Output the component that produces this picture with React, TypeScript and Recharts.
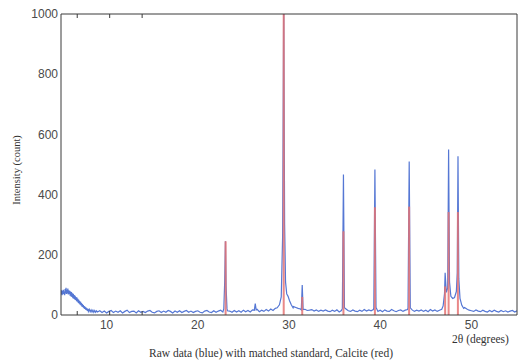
import React from "react";
import { ComposedChart, Line, ReferenceLine, XAxis, YAxis } from "recharts";

const X_TICKS = [10, 20, 30, 40, 50];
const Y_TICKS = [0, 200, 400, 600, 800, 1000];

// raw scan, low-angle hump (2theta, count)
const LOW_ANGLE: [number, number][] = [
  [5.0, 70], [5.05, 82], [5.1, 66], [5.15, 80], [5.2, 68], [5.25, 84], [5.3, 70], [5.35, 78],
  [5.4, 66], [5.45, 86], [5.5, 72], [5.55, 90], [5.6, 70], [5.65, 84], [5.7, 72], [5.75, 88],
  [5.8, 68], [5.85, 82], [5.9, 70], [5.95, 80], [6.0, 64], [6.05, 78], [6.1, 62], [6.15, 76],
  [6.2, 60], [6.25, 72], [6.3, 56], [6.35, 70], [6.4, 54], [6.45, 66], [6.5, 52], [6.55, 64],
  [6.6, 50], [6.65, 60], [6.7, 46], [6.75, 58], [6.8, 44], [6.85, 54], [6.9, 40], [6.95, 50],
  [7.0, 38], [7.05, 46], [7.1, 34], [7.15, 44], [7.2, 32], [7.25, 40], [7.3, 28], [7.35, 36],
  [7.4, 26], [7.45, 33], [7.5, 23], [7.55, 30], [7.6, 20], [7.65, 27], [7.7, 18], [7.75, 25],
  [7.8, 16], [7.85, 22], [7.9, 14], [7.95, 20], [8.0, 12], [8.1, 19], [8.2, 11], [8.3, 17],
  [8.4, 10], [8.5, 16], [8.6, 9], [8.7, 15], [8.8, 9], [8.9, 14], [9.0, 10],
];

// flat background, sampled every 0.25 deg from 9.25 to 55
const BACKGROUND_START = 9.25;
const BACKGROUND_STEP = 0.25;
const BACKGROUND_COUNTS = [
  14, 8, 13, 7, 12, 15, 8, 13, 9, 14, 7, 12, 16, 8, 12, 13, 7, 14, 9, 12,
  8, 13, 15, 9, 7, 12, 14, 8, 13, 9, 15, 12, 7, 13, 9, 14, 8, 12, 15, 9,
  13, 8, 12, 14, 9, 7, 13, 15, 10, 8, 14, 9, 13, 16, 10, 8, 14, 13, 9, 15,
  10, 14, 9, 16, 11, 15, 10, 17, 12, 19, 11, 16, 12, 18, 13, 20, 15, 22, 24, 30,
  40, 45, 40, 35, 30, 28, 25, 22, 20, 18, 19, 15, 16, 18, 13, 17, 12, 16, 13, 17,
  13, 11, 16, 12, 17, 10, 15, 18, 20, 14, 12, 17, 13, 11, 16, 12, 18, 13, 17, 14,
  18, 13, 12, 16, 11, 17, 13, 12, 18, 14, 11, 15, 17, 12, 16, 18, 13, 17, 12, 16,
  13, 17, 12, 16, 11, 18, 13, 17, 12, 16, 19, 17, 22, 28, 35, 45, 55, 50, 40, 30,
  25, 20, 16, 14, 12, 17, 13, 11, 16, 12, 10, 15, 11, 16, 12, 10, 15, 11, 14, 10,
  13, 15, 10, 14,
];

// diffraction peaks in the raw scan
const PEAKS: [number, number][][] = [
  [[22.85, 20], [22.95, 110], [23.03, 245], [23.1, 95], [23.2, 22]],
  [[26.2, 16], [26.3, 38], [26.4, 17]],
  [
    [28.7, 24], [28.95, 34], [29.15, 60], [29.3, 260], [29.42, 1060], [29.52, 300],
    [29.62, 110], [29.75, 70], [29.9, 62], [30.05, 48], [30.25, 34], [30.45, 24],
  ],
  [[31.35, 17], [31.45, 100], [31.55, 18]],
  [[35.85, 22], [35.97, 467], [36.08, 24]],
  [[39.3, 24], [39.42, 483], [39.54, 25]],
  [[43.05, 24], [43.18, 510], [43.3, 24]],
  [
    [46.9, 30], [47.05, 70], [47.12, 140], [47.25, 75], [47.4, 90], [47.5, 550],
    [47.6, 110], [47.75, 62], [47.95, 55], [48.15, 58], [48.35, 78], [48.45, 140],
    [48.53, 527], [48.62, 120], [48.75, 55], [48.95, 32], [49.15, 22],
  ],
];

// calcite standard sticks
const STANDARD_ANGLES = [23.05, 29.42, 31.45, 35.97, 39.42, 43.17, 47.12, 47.5, 48.52];
const STANDARD_COUNTS = [245, 1000, 60, 278, 358, 360, 95, 342, 342];

function buildRaw() {
  const windows = PEAKS.map((p) => [p[0][0], p[p.length - 1][0]]);
  const background = BACKGROUND_COUNTS.map(
    (count, i) => [BACKGROUND_START + i * BACKGROUND_STEP, count] as [number, number]
  ).filter(([angle]) => !windows.some(([a, b]) => angle >= a && angle <= b));
  return [...LOW_ANGLE, ...background, ...PEAKS.flat()]
    .sort((a, b) => a[0] - b[0])
    .map(([angle, count]) => ({ angle, count }));
}

const RAW = buildRaw();

const AXIS = "#3a3a3a";
const tickStyle = { fill: "#4a4a4a", fontSize: 12, fontFamily: "Liberation Sans" };
const noLabel = () => null;
const caption: React.CSSProperties = {
  position: "absolute",
  fontFamily: "Liberation Serif",
  fontSize: 11.5,
  color: "#333",
  whiteSpace: "nowrap",
  lineHeight: "12px",
};

export default function App() {
  return (
    <div style={{ position: "absolute", left: 0, top: 0, width: 518, height: 361, background: "#fff" }}>
      <ComposedChart width={518} height={361} data={RAW} margin={{ top: 14, right: 1, bottom: 0, left: 0 }}>
        <XAxis
          xAxisId="bottom"
          dataKey="angle"
          type="number"
          domain={[5, 55]}
          ticks={X_TICKS}
          allowDataOverflow
          height={46}
          tickSize={0}
          tickMargin={5}
          tick={tickStyle}
          stroke={AXIS}
        />
        <XAxis
          xAxisId="bottomTicks"
          type="number"
          domain={[5, 55]}
          ticks={X_TICKS}
          mirror
          tick={noLabel}
          tickSize={4}
          axisLine={false}
          stroke={AXIS}
        />
        <XAxis
          xAxisId="top"
          orientation="top"
          type="number"
          domain={[5, 55]}
          ticks={X_TICKS}
          mirror
          tick={noLabel}
          tickSize={4}
          stroke={AXIS}
        />
        <YAxis
          yAxisId="left"
          type="number"
          domain={[0, 1000]}
          ticks={Y_TICKS}
          allowDataOverflow
          width={61}
          tickSize={0}
          tickMargin={3}
          tick={tickStyle}
          stroke={AXIS}
        />
        <YAxis
          yAxisId="leftTicks"
          type="number"
          domain={[0, 1000]}
          ticks={Y_TICKS}
          mirror
          tick={noLabel}
          tickSize={4}
          axisLine={false}
          stroke={AXIS}
        />
        <YAxis
          yAxisId="right"
          orientation="right"
          type="number"
          domain={[0, 1000]}
          ticks={Y_TICKS}
          mirror
          tick={noLabel}
          tickSize={4}
          stroke={AXIS}
        />
        <Line
          xAxisId="bottom"
          yAxisId="left"
          dataKey="count"
          type="linear"
          stroke="#5577d4"
          strokeWidth={1.2}
          dot={false}
          isAnimationActive={false}
        />
        {STANDARD_ANGLES.map((angle, i) => (
          <ReferenceLine
            key={angle}
            xAxisId="bottom"
            yAxisId="left"
            segment={[
              { x: angle, y: 0 },
              { x: angle, y: STANDARD_COUNTS[i] },
            ]}
            stroke="#e57373"
            strokeWidth={2}
            strokeOpacity={0.85}
          />
        ))}
      </ComposedChart>
      <div
        style={{
          ...caption,
          fontSize: 10.5,
          left: 17,
          top: 170,
          transform: "translate(-50%, -50%) rotate(-90deg)",
        }}
      >
        Intensity (count)
      </div>
      <div style={{ ...caption, left: 452, top: 333 }}>2θ (degrees)</div>
      <div style={{ ...caption, left: 271, top: 347, transform: "translateX(-50%)" }}>
        Raw data (blue) with matched standard, Calcite (red)
      </div>
    </div>
  );
}
